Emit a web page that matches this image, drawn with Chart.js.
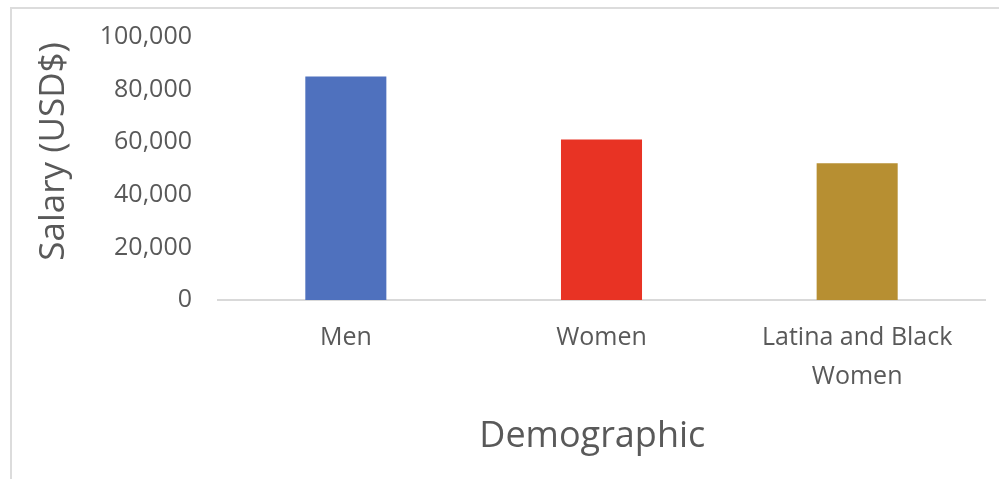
<!DOCTYPE html>
<html>
<head>
<meta charset="utf-8">
<script src="https://cdn.jsdelivr.net/npm/chart.js@4.4.1/dist/chart.umd.min.js"></script>
<style>
  html, body { margin: 0; padding: 0; background: #fff; }
  #wrap { position: relative; width: 999px; height: 479px; overflow: hidden; }
  #frame { position: absolute; left: 10px; top: 7px; width: 1000px; height: 500px;
           border-left: 2px solid #dcdcdc; border-top: 2px solid #dcdcdc; }
  canvas { position: absolute; left: 0; top: 0; }
</style>
</head>
<body>
<div id="wrap">
  <div id="frame"></div>
  <canvas id="salaryChart" width="999" height="479"></canvas>
</div>
<script>
// data
const categories = ["Men", "Women", ["Latina and Black", "Women"]];
const salaries = [85000, 61000, 52000];
const barColors = ["#4f71be", "#e83324", "#b78f32"];
const yTicks = [0, 20000, 40000, 60000, 80000, 100000];

const textColor = "#595959";
const fontFamily = '"Open Sans", "Noto Sans", sans-serif';

// axis titles placed like the original (slightly off-centre from the plot area)
const axisTitles = {
  id: "axisTitles",
  afterDraw(chart) {
    const { ctx, chartArea } = chart;
    ctx.save();
    ctx.fillStyle = textColor;
    ctx.textAlign = "center";
    ctx.textBaseline = "middle";
    ctx.font = "36px " + fontFamily;
    ctx.fillText("Demographic", chartArea.left + (chartArea.right - chartArea.left) * 0.488, 437);
    ctx.font = "35px " + fontFamily;
    ctx.translate(54, chartArea.top + (chartArea.bottom - chartArea.top) * 0.435);
    ctx.rotate(-Math.PI / 2);
    ctx.fillText("Salary (USD$)", 0, 0);
    ctx.restore();
  }
};

const ctx = document.getElementById("salaryChart").getContext("2d");
new Chart(ctx, {
  type: "bar",
  data: {
    labels: categories,
    datasets: [{
      data: salaries,
      backgroundColor: barColors,
      borderWidth: 0,
      categoryPercentage: 1,
      barPercentage: 0.317
    }]
  },
  options: {
    responsive: false,
    animation: false,
    layout: { padding: { top: 0, right: 14, bottom: 0, left: 0 } },
    plugins: { legend: { display: false }, tooltip: { enabled: false } },
    scales: {
      x: {
        grid: { display: false, drawTicks: false },
        border: { display: true, color: "#d9d9d9", width: 2 },
        ticks: {
          color: textColor,
          font: { family: fontFamily, size: 25, lineHeight: 1.58 },
          padding: 18,
          maxRotation: 0,
          autoSkip: false
        },
        afterFit(scale) { scale.height = 179; }
      },
      y: {
        min: 0,
        max: 100000,
        grid: { display: false, drawTicks: false },
        border: { display: false },
        afterBuildTicks(scale) { scale.ticks = yTicks.map(v => ({ value: v })); },
        ticks: {
          color: textColor,
          font: { family: fontFamily, size: 25 },
          padding: 26,
          callback: v => v.toLocaleString("en-US")
        },
        afterFit(scale) { scale.width = 218; scale.paddingTop = 37; }
      }
    }
  },
  plugins: [axisTitles]
});
</script>
</body>
</html>
